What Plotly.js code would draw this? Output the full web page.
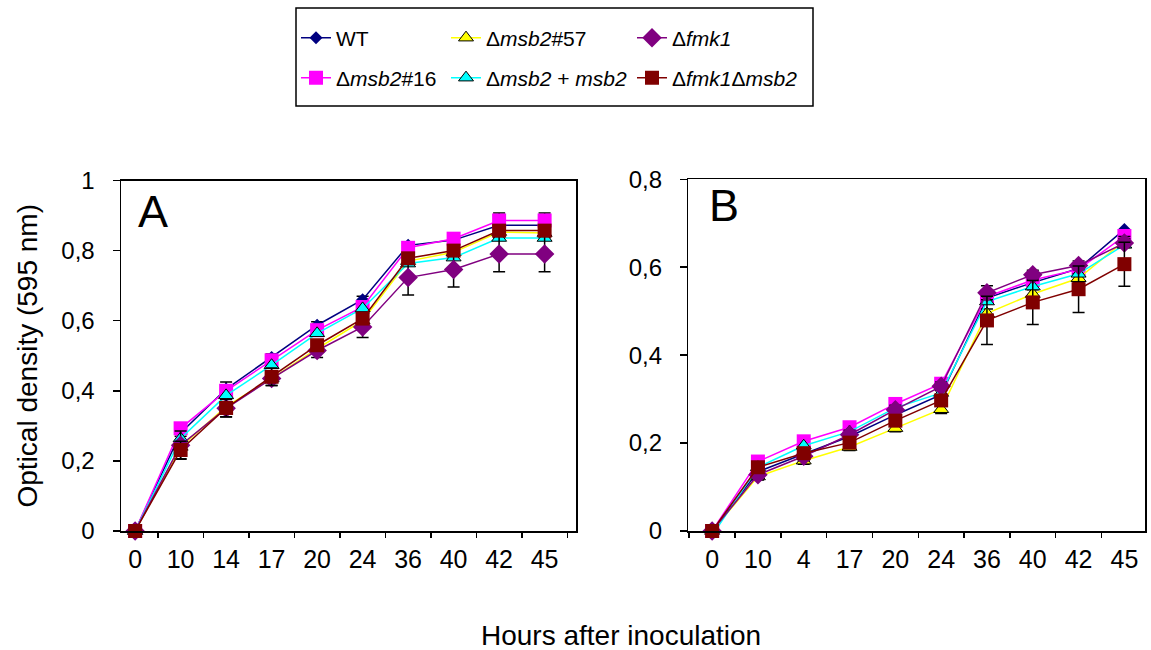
<!DOCTYPE html>
<html>
<head>
<meta charset="utf-8">
<script src="https://cdn.plot.ly/plotly-3.0.1.min.js"></script>
<style>html,body{margin:0;padding:0;background:#fff;}#chart{width:1151px;height:650px;}</style>
</head>
<body>
<div id="chart"></div>
<script>
// ---- data ----
const hoursA = ["0","10","14","17","20","24","36","40","42","45"];
const hoursB = ["0","10","4","17","20","24","36","40","42","45"];
const seriesNames = ["WT","Δ<i>msb2</i>#16","Δ<i>msb2</i>#57","Δ<i>msb2</i> + <i>msb2</i>","Δ<i>fmk1</i>","Δ<i>fmk1</i>Δ<i>msb2</i>"];

const wtA      = [0, 0.280, 0.405, 0.495, 0.587, 0.660, 0.815, 0.830, 0.872, 0.872];
const msb16A   = [0, 0.293, 0.400, 0.487, 0.573, 0.639, 0.808, 0.834, 0.886, 0.886];
const msb57A   = [0, 0.240, 0.355, 0.435, 0.520, 0.600, 0.770, 0.795, 0.853, 0.850];
const compA    = [0, 0.264, 0.387, 0.473, 0.564, 0.635, 0.763, 0.780, 0.836, 0.836];
const fmk1A    = [0, 0.245, 0.350, 0.435, 0.515, 0.582, 0.723, 0.746, 0.790, 0.790];
const doubleA  = [0, 0.231, 0.351, 0.440, 0.530, 0.606, 0.778, 0.800, 0.857, 0.857];

const wtB      = [0, 0.135, 0.175, 0.215, 0.264, 0.310, 0.530, 0.565, 0.597, 0.686];
const msb16B   = [0, 0.158, 0.204, 0.236, 0.289, 0.335, 0.533, 0.571, 0.595, 0.671];
const msb57B   = [0, 0.124, 0.160, 0.191, 0.234, 0.277, 0.495, 0.539, 0.575, 0.660];
const compB    = [-0.01, 0.145, 0.194, 0.226, 0.280, 0.314, 0.522, 0.556, 0.585, 0.651];
const fmk1B    = [0, 0.128, 0.170, 0.219, 0.276, 0.329, 0.542, 0.583, 0.604, 0.655];
const doubleB  = [0, 0.145, 0.177, 0.201, 0.251, 0.297, 0.479, 0.520, 0.550, 0.607];

// error bars (SD)
const wtErrA     = [0, 0.010, 0.020, 0.010, 0.010, 0.010, 0.010, 0.020, 0.035, 0.035];
const fmk1ErrA   = [0, 0.040, 0.025, 0.020, 0.020, 0.030, 0.050, 0.050, 0.050, 0.050];
const doubleErrA = [0, 0.025, 0.025, 0.025, 0.015, 0.015, 0.015, 0.015, 0.015, 0.015];
const msb57ErrB  = [0, 0.008, 0.008, 0.008, 0.008, 0.010, 0.010, 0.010, 0.010, 0.010];
const fmk1ErrB   = [0, 0.010, 0.010, 0.010, 0.010, 0.010, 0.016, 0.010, 0.010, 0.010];
const doubleErrB = [0, 0.010, 0.010, 0.010, 0.010, 0.010, 0.055, 0.050, 0.053, 0.050];

// ---- styles ----
const W = 1151, H = 650;
const px = v => v / W;
const py = v => 1 - v / H;
const FONT = "Liberation Sans, Arial, sans-serif";
const styles = [
  {color:"#000080", symbol:"diamond", size:10, lineW:1.5, outline:"#000080"},
  {color:"#FF00FF", symbol:"square", size:14, lineW:1.5, outline:"#FF00FF"},
  {color:"#FFFF00", symbol:"triangle-up", size:13, lineW:1.5, outline:"#000000"},
  {color:"#00FFFF", symbol:"triangle-up", size:13, lineW:1.5, outline:"#000000"},
  {color:"#800080", symbol:"diamond", size:15, lineW:1.5, outline:"#800080"},
  {color:"#800000", symbol:"square", size:14, lineW:1.5, outline:"#800000"}
];
const legendIds = ["legend","legend4","legend2","legend5","legend3","legend6"];
const seriesA = [wtA, msb16A, msb57A, compA, fmk1A, doubleA];
const seriesB = [wtB, msb16B, msb57B, compB, fmk1B, doubleB];
const errA = [wtErrA, null, null, null, fmk1ErrA, doubleErrA];
const errB = [null, null, msb57ErrB, null, fmk1ErrB, doubleErrB];

const traces = [];
function mk(xs, ys, i, err, xa, ya, showleg) {
  const s = styles[i];
  const t = {
    type:"scatter", mode:"lines+markers", x:xs, y:ys, xaxis:xa, yaxis:ya,
    name:seriesNames[i], legend:legendIds[i], legendgroup:"g"+i, showlegend:showleg,
    cliponaxis:false,
    line:{color:s.color, width:s.lineW},
    marker:{color:s.color, symbol:s.symbol, size:s.size, line:{color:s.outline, width:s.outline==="#000000"?1:0}}
  };
  if (err) t.error_y = {type:"data", array:err, visible:true, color:"#000000", thickness:1.5, width:6};
  return t;
}
for (let i = 0; i < 6; i++) traces.push(mk(hoursA, seriesA[i], i, errA[i], "x", "y", true));
for (let i = 0; i < 6; i++) traces.push(mk(hoursB, seriesB[i], i, errB[i], "x2", "y2", false));

const xCommon = {
  type:"category", tickson:"boundaries", ticks:"outside", ticklen:5, tickwidth:1.5, tickcolor:"#000",
  showline:true, linecolor:"#000", linewidth:1.5, mirror:true, showgrid:false, zeroline:false,
  tickfont:{family:FONT, size:25, color:"#000"}, automargin:false, ticklabelstandoff:5, dtick:1
};
const yCommon = {
  ticks:"outside", ticklen:7, tickwidth:1.5, tickcolor:"#000", dtick:0.2,
  showline:true, linecolor:"#000", linewidth:1.5, mirror:true, showgrid:false, zeroline:false,
  tickfont:{family:FONT, size:24, color:"#000"}, automargin:false, ticklabelstandoff:13
};

const legendBase = (x, y) => ({
  x:px(x), y:py(y), xanchor:"left", yanchor:"middle", orientation:"v",
  bgcolor:"rgba(0,0,0,0)", borderwidth:0, font:{family:FONT, size:21, color:"#000"}
});

const layout = {
  width:W, height:H, margin:{l:0, r:0, t:0, b:0},
  paper_bgcolor:"#fff", plot_bgcolor:"#fff",
  separators:", ",
  font:{family:FONT, color:"#000"},
  xaxis:Object.assign({}, xCommon, {domain:[px(121), px(576)], range:[-0.31, 9.69], anchor:"y"}),
  yaxis:Object.assign({}, yCommon, {domain:[py(531), py(180.5)], range:[0, 1], anchor:"x",
    title:{text:"Optical density (595 nm)", font:{family:FONT, size:28, color:"#000"}, standoff:15}}),
  xaxis2:Object.assign({}, xCommon, {domain:[px(688.3), px(1145)], range:[-0.52, 9.45], anchor:"y2"}),
  yaxis2:Object.assign({}, yCommon, {domain:[py(531), py(179.3)], range:[0, 0.8], anchor:"x2"}),
  legend:legendBase(296, 38),
  legend4:legendBase(296, 78),
  legend2:legendBase(446, 38),
  legend5:legendBase(446, 78),
  legend3:legendBase(632, 38),
  legend6:legendBase(632, 78),
  shapes:[{type:"rect", xref:"paper", yref:"paper", x0:px(296), x1:px(813), y0:py(106), y1:py(8),
    line:{color:"#000", width:1.5}, fillcolor:"rgba(0,0,0,0)"}],
  annotations:[
    {text:"A", xref:"paper", yref:"paper", x:px(136), y:py(212), xanchor:"left", yanchor:"middle", showarrow:false,
     font:{family:FONT, size:45, color:"#000"}},
    {text:"B", xref:"paper", yref:"paper", x:px(707), y:py(206), xanchor:"left", yanchor:"middle", showarrow:false,
     font:{family:FONT, size:45, color:"#000"}},
    {text:"Hours after inoculation", xref:"paper", yref:"paper", x:px(621), y:py(635), xanchor:"center", yanchor:"middle",
     showarrow:false, font:{family:FONT, size:28, color:"#000"}}
  ],
  showlegend:true
};

Plotly.newPlot("chart", traces, layout, {displayModeBar:false, staticPlot:true});
</script>
</body>
</html>
